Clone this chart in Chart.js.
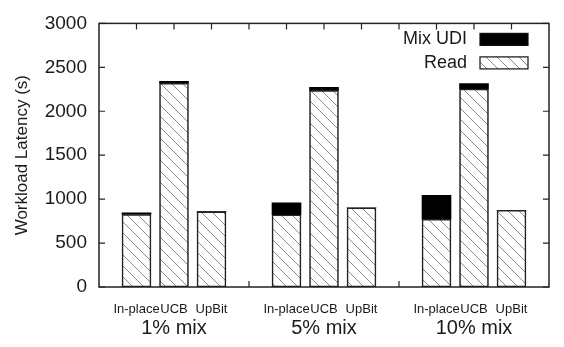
<!DOCTYPE html>
<html>
<head>
<meta charset="utf-8">
<script src="https://cdn.jsdelivr.net/npm/chart.js@4.4.1/dist/chart.umd.min.js"></script>
<style>
    html, body { margin: 0; padding: 0; background: #fff; }
</style>
</head>
<body>
<canvas id="myChart" width="564" height="347"></canvas>
<script>
// x slots, empty ones are the gaps between the groups
const slotLabels = ['', 'In-place', 'UCB', 'UpBit', '', 'In-place', 'UCB', 'UpBit', '', 'In-place', 'UCB', 'UpBit', ''];
const groupLabels = ['', '', '1% mix', '', '', '', '5% mix', '', '', '', '10% mix', '', ''];
const readLatency = [null, 825, 2320, 857, null, 822, 2237, 902, null, 772, 2253, 873, null];
const udiLatency = [null, 18, 22, 0, null, 136, 35, 0, null, 272, 61, 0, null];
const yTicks = [0, 500, 1000, 1500, 2000, 2500, 3000];

Chart.defaults.font.family = '"Liberation Sans", Arial, sans-serif';
Chart.defaults.color = '#1a1a1a';

function hatch() {
    const c = document.createElement('canvas');
    c.width = 11; c.height = 11;
    const g = c.getContext('2d');
    g.fillStyle = '#fff';
    g.fillRect(0, 0, 11, 11);
    g.strokeStyle = '#8a8a8a';
    g.lineWidth = 1;
    g.beginPath();
    g.moveTo(-1, -1); g.lineTo(12, 12);
    g.moveTo(-1, 10); g.lineTo(1, 12);
    g.moveTo(10, -1); g.lineTo(12, 1);
    g.stroke();
    return g.createPattern(c, 'repeat');
}

// gnuplot style box, inward ticks and legend inside the plot
const frame = {
    id: 'frame',
    beforeDatasetsDraw(chart) {
        const { ctx, chartArea: a, scales: { x, y } } = chart;
        ctx.save();
        ctx.strokeStyle = '#222';
        ctx.lineWidth = 1.2;
        ctx.beginPath();
        x.ticks.forEach((t, i) => {
            if (i === 0 || i === x.ticks.length - 1) return;
            const px = x.getPixelForTick(i);
            ctx.moveTo(px, a.bottom); ctx.lineTo(px, a.bottom - 6);
            ctx.moveTo(px, a.top); ctx.lineTo(px, a.top + 6);
        });
        y.ticks.forEach(t => {
            const py = y.getPixelForValue(t.value);
            ctx.moveTo(a.left, py); ctx.lineTo(a.left + 6, py);
            ctx.moveTo(a.right, py); ctx.lineTo(a.right - 6, py);
        });
        ctx.stroke();
        ctx.restore();
    },
    afterDatasetsDraw(chart) {
        const { ctx, chartArea: a } = chart;
        ctx.save();
        ctx.strokeStyle = '#222';
        ctx.lineWidth = 1.5;
        ctx.strokeRect(a.left, a.top, a.right - a.left, a.bottom - a.top);
        ctx.restore();
    },
    afterDraw(chart) {
        const { ctx, chartArea: a } = chart;
        const items = chart.data.datasets.slice().reverse();
        ctx.save();
        ctx.font = '18px "Liberation Sans", Arial, sans-serif';
        ctx.textAlign = 'right';
        ctx.textBaseline = 'middle';
        items.forEach((ds, i) => {
            const bx = a.right - 21 - 48;
            const by = a.top + 10 + i * 23.5;
            ctx.fillStyle = ds.backgroundColor;
            ctx.fillRect(bx, by, 48, 12);
            ctx.strokeStyle = '#111';
            ctx.lineWidth = 1.2;
            ctx.strokeRect(bx, by, 48, 12);
            ctx.fillStyle = '#1a1a1a';
            ctx.fillText(ds.label, bx - 13, by + 6);
        });
        ctx.restore();
    }
};

const ctx = document.getElementById('myChart');

new Chart(ctx, {
    type: 'bar',
    data: {
        labels: slotLabels,
        datasets: [{
            label: 'Read',
            data: readLatency,
            backgroundColor: hatch(),
            borderColor: '#222',
            borderWidth: 1.6,
            borderSkipped: false,
            barThickness: 29
        },
        {
            label: 'Mix UDI',
            data: udiLatency,
            backgroundColor: '#000',
            borderColor: '#000',
            borderWidth: 0,
            barThickness: 29
        }]
    },
    options: {
        responsive: false,
        animation: false,
        layout: { padding: { left: 12, top: 19, right: 2, bottom: 9 } },
        plugins: {
            legend: { display: false },
            tooltip: { enabled: false }
        },
        scales: {
            x: {
                stacked: true,
                offset: false,
                weight: 0,
                grid: { display: false, drawTicks: false },
                border: { display: false },
                ticks: { autoSkip: false, maxRotation: 0, padding: 15, font: { size: 13 } },
                afterFit: s => { s.height = 31; }
            },
            x2: {
                type: 'category',
                labels: groupLabels,
                position: 'bottom',
                offset: false,
                weight: 1,
                grid: { display: false, drawTicks: false },
                border: { display: false },
                ticks: { autoSkip: false, maxRotation: 0, padding: 0, font: { size: 20, lineHeight: 1 } },
                afterFit: s => { s.height = 20; }
            },
            y: {
                stacked: true,
                min: yTicks[0],
                max: yTicks[yTicks.length - 1],
                grid: { display: false, drawTicks: false },
                border: { display: false },
                ticks: {
                    stepSize: yTicks[1] - yTicks[0],
                    padding: 12,
                    font: { size: 19 },
                    callback: v => String(v)
                },
                title: {
                    display: true,
                    text: 'Workload Latency (s)',
                    font: { size: 17 },
                    padding: { top: 0, bottom: 14 }
                },
                afterFit: s => { s.width = 87; }
            }
        }
    },
    plugins: [frame]
});
</script>
</body>
</html>
